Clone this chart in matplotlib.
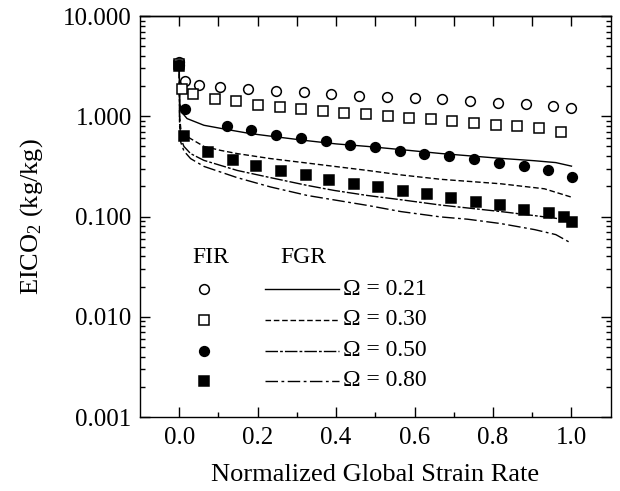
import matplotlib
matplotlib.use("Agg")
import matplotlib.pyplot as plt
import matplotlib.ticker as ticker
from matplotlib.lines import Line2D

plt.rcParams['font.family'] = ['Liberation Serif', 'DejaVu Serif']
plt.rcParams['mathtext.fontset'] = 'custom'
plt.rcParams['mathtext.rm'] = 'Liberation Serif'
plt.rcParams['mathtext.it'] = 'Liberation Serif:italic'
plt.rcParams['font.size'] = 18

# FIR (symbols)
x_o21 = [0.0, 0.016, 0.051, 0.105, 0.176, 0.247, 0.317, 0.388, 0.459, 0.530, 0.600, 0.670, 0.741, 0.812, 0.883, 0.954, 1.000]
y_o21 = [3.45, 2.24, 2.07, 1.94, 1.85, 1.79, 1.73, 1.66, 1.60, 1.55, 1.51, 1.47, 1.42, 1.37, 1.32, 1.27, 1.21]
x_s30 = [0.0, 0.008, 0.036, 0.091, 0.146, 0.201, 0.256, 0.311, 0.366, 0.421, 0.477, 0.532, 0.587, 0.642, 0.696, 0.752, 0.808, 0.862, 0.918, 0.973]
y_s30 = [3.35, 1.86, 1.67, 1.50, 1.41, 1.31, 1.25, 1.19, 1.14, 1.09, 1.05, 1.01, 0.97, 0.93, 0.905, 0.857, 0.826, 0.794, 0.759, 0.703]
x_c50 = [0.0, 0.014, 0.121, 0.184, 0.247, 0.310, 0.374, 0.436, 0.499, 0.563, 0.625, 0.689, 0.752, 0.815, 0.879, 0.941, 1.002]
y_c50 = [3.25, 1.17, 0.807, 0.724, 0.656, 0.612, 0.567, 0.521, 0.490, 0.454, 0.424, 0.401, 0.372, 0.344, 0.321, 0.290, 0.247]
x_q80 = [0.0, 0.012, 0.073, 0.136, 0.197, 0.260, 0.322, 0.383, 0.445, 0.507, 0.570, 0.632, 0.693, 0.756, 0.817, 0.879, 0.942, 0.981, 1.002]
y_q80 = [3.15, 0.635, 0.44, 0.363, 0.321, 0.284, 0.259, 0.233, 0.212, 0.195, 0.179, 0.166, 0.153, 0.141, 0.129, 0.117, 0.108, 0.098, 0.089]

# FGR (lines)
x_l21 = [0, 0.0015, 0.006, 0.02, 0.063, 0.123, 0.182, 0.25, 0.327, 0.40, 0.48, 0.565, 0.667, 0.82, 0.906, 0.96, 1.0]
y_l21 = [3.2, 1.34, 1.10, 0.948, 0.813, 0.736, 0.671, 0.621, 0.57, 0.53, 0.50, 0.465, 0.425, 0.38, 0.36, 0.345, 0.318]
x_l30 = [0, 0.001, 0.004, 0.012, 0.029, 0.063, 0.105, 0.148, 0.233, 0.327, 0.48, 0.565, 0.667, 0.82, 0.931, 1.0]
y_l30 = [3.2, 1.0, 0.75, 0.66, 0.598, 0.50, 0.457, 0.424, 0.378, 0.341, 0.288, 0.26, 0.235, 0.212, 0.189, 0.156]
x_l50 = [0, 0.001, 0.004, 0.012, 0.029, 0.063, 0.148, 0.233, 0.327, 0.395, 0.48, 0.565, 0.667, 0.82, 0.906, 0.96, 1.0]
y_l50 = [3.2, 0.85, 0.6, 0.5, 0.424, 0.363, 0.288, 0.244, 0.204, 0.182, 0.162, 0.147, 0.130, 0.112, 0.102, 0.096, 0.088]
x_l80 = [0, 0.001, 0.004, 0.012, 0.029, 0.063, 0.148, 0.233, 0.327, 0.48, 0.565, 0.667, 0.735, 0.82, 0.906, 0.96, 1.0]
y_l80 = [3.2, 0.8, 0.55, 0.45, 0.378, 0.316, 0.244, 0.197, 0.162, 0.129, 0.112, 0.099, 0.094, 0.085, 0.074, 0.066, 0.054]

labels = ['Ω = 0.21', 'Ω = 0.30', 'Ω = 0.50', 'Ω = 0.80']
line_styles = ['-', (0, (4, 2)), (0, (9, 1.5, 2, 1.5)), (0, (9, 2.5, 2, 2.5))]
marker_kw = [dict(marker='o', mfc='white', mec='black'),
             dict(marker='s', mfc='white', mec='black'),
             dict(marker='o', mfc='black', mec='black'),
             dict(marker='s', mfc='black', mec='black')]

fig = plt.figure(figsize=(6.2, 4.91), dpi=100)
ax = fig.add_axes([0.2258, 0.1507, 0.7592, 0.8167])

line_data = [(x_l21, y_l21), (x_l30, y_l30), (x_l50, y_l50), (x_l80, y_l80)]
for (lx, ly), ls in zip(line_data, line_styles):
    ax.plot(lx, ly, color='black', linestyle=ls, linewidth=1.0)

sym_data = [(x_o21, y_o21), (x_s30, y_s30), (x_c50, y_c50), (x_q80, y_q80)]
for (sx, sy), mk in zip(sym_data, marker_kw):
    ax.plot(sx, sy, linestyle='none', markersize=7, markeredgewidth=1.1, **mk)

ax.set_yscale('log')
ax.set_ylim(0.001, 10)
ax.set_xlim(-0.1, 1.1)
ax.yaxis.set_major_locator(ticker.LogLocator(base=10, numticks=10))
ax.yaxis.set_minor_locator(ticker.LogLocator(base=10, subs=range(2, 10), numticks=20))
ax.yaxis.set_major_formatter(ticker.FormatStrFormatter('%.3f'))
ax.yaxis.set_minor_formatter(ticker.NullFormatter())
ax.xaxis.set_major_locator(ticker.FixedLocator([0.0, 0.2, 0.4, 0.6, 0.8, 1.0]))
ax.xaxis.set_minor_locator(ticker.FixedLocator([0.1, 0.3, 0.5, 0.7, 0.9]))
ax.xaxis.set_major_formatter(ticker.FormatStrFormatter('%.1f'))

ax.tick_params(axis='both', which='major', direction='in', length=7, width=1.0, pad=6)
ax.tick_params(axis='both', which='minor', direction='in', length=3.5, width=1.0)
ax.tick_params(axis='y', which='both', right=True)
ax.tick_params(axis='x', which='major', pad=7)
for sp in ax.spines.values():
    sp.set_linewidth(1.0)

top = ax.secondary_xaxis('top')
top.set_xticks([0.0, 0.1, 0.2, 0.3, 0.4, 0.5, 0.6, 0.7, 0.8, 0.9, 1.0])
top.tick_params(direction='in', length=7, width=1.0, labeltop=False)
top.spines['top'].set_linewidth(1.0)

ax.set_xlabel('Normalized Global Strain Rate', labelpad=11, fontsize=19)
ax.set_ylabel('EICO$_2$ (kg/kg)', labelpad=13, fontsize=19)

# manual legend
ax.text(0.151, 0.399, 'FIR', transform=ax.transAxes, ha='center', va='center', fontsize=17)
ax.text(0.346, 0.399, 'FGR', transform=ax.transAxes, ha='center', va='center', fontsize=17)
rows = [0.319, 0.242, 0.165, 0.090]
for ry, mk, ls, lab in zip(rows, marker_kw, line_styles, labels):
    ax.add_line(Line2D([0.136], [ry], transform=ax.transAxes, linestyle='none',
                       markersize=7, markeredgewidth=1.1, **mk))
    ax.add_line(Line2D([0.266, 0.423], [ry, ry], transform=ax.transAxes,
                       color='black', linestyle=ls, linewidth=1.0))
    ax.text(0.432, ry, lab, transform=ax.transAxes, ha='left', va='center', fontsize=17)

fig.savefig('out.png', dpi=100)
